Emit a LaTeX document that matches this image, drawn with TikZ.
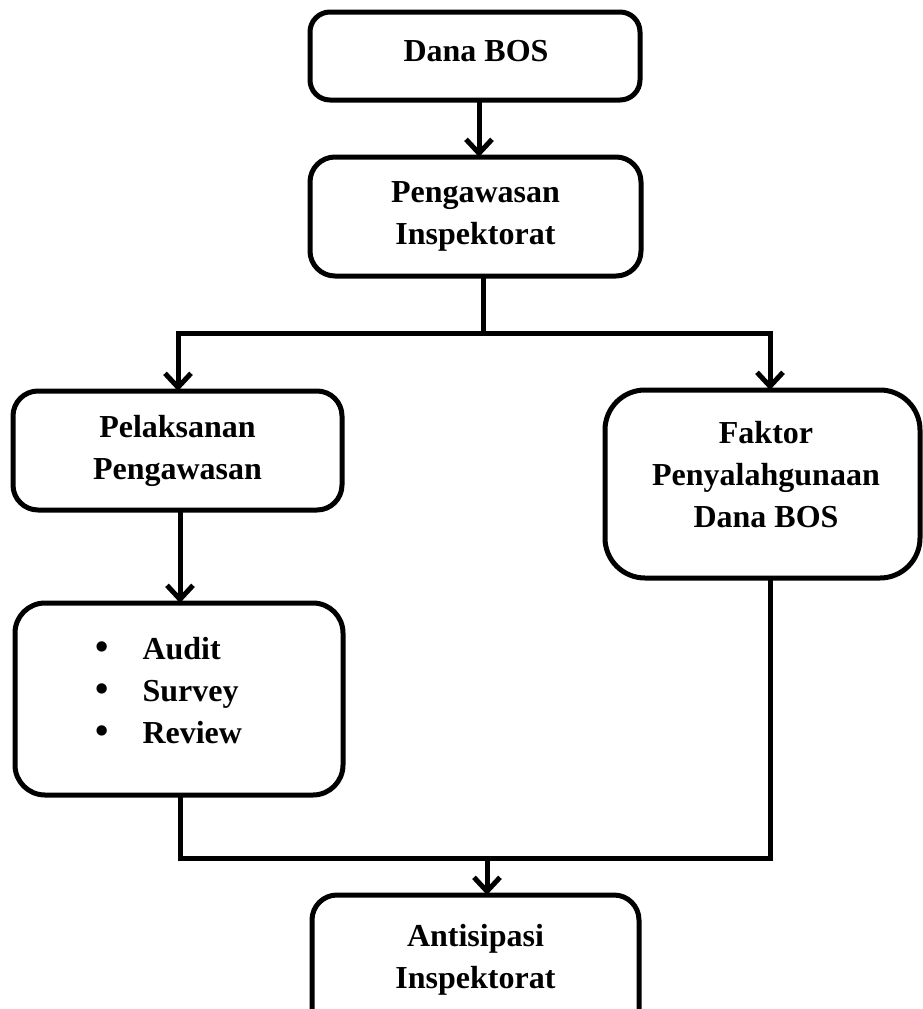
\documentclass[tikz,border=0pt]{standalone}
\usepackage{fontspec}
\setmainfont{Liberation Serif}
\usetikzlibrary{arrows.meta}
\begin{document}
\begin{tikzpicture}[x=1pt,y=-1pt,
  box/.style={draw=black, line width=5pt, fill=white, align=center, inner sep=0pt,
    font=\fontsize{32}{42}\selectfont\bfseries},
  conn/.style={line width=5pt, line cap=rect},
  arr/.style={line width=5pt, -{Straight Barb[length=14pt,width=26pt,line width=5pt]}},
  txt/.style={inner sep=0pt, align=center, font=\fontsize{32}{42}\selectfont\bfseries}]
\useasboundingbox (0,0) rectangle (923,1009);
\clip (0,0) rectangle (923,1009);
\fill[white] (0,0) rectangle (923,1009);

\node[box, rounded corners=20pt, minimum width=330pt, minimum height=88pt] (b1) at (475,56) {};
\node[txt, anchor=base] (b1t) at (476,61) {Dana BOS};
\node[box, rounded corners=25pt, minimum width=331pt, minimum height=119pt] (b2) at (475.5,216.5) {Pengawasan\\Inspektorat};
\node[box, rounded corners=25pt, minimum width=329pt, minimum height=119pt] (b3) at (177.5,450.5) {Pelaksanan\\Pengawasan};
\node[box, rounded corners=30pt, minimum width=328pt, minimum height=192pt] (b4) at (179,699) {};
\node[txt, anchor=base west] (list) at (95,659) {%
  \begin{tabular}[t]{@{}l@{\hspace{34pt}}l@{}}
  \fontsize{38}{44}\selectfont • & Audit\\
  \fontsize{38}{44}\selectfont • & Survey\\
  \fontsize{38}{44}\selectfont • & Review
  \end{tabular}};
\node[box, rounded corners=40pt, minimum width=315pt, minimum height=188pt] (b5) at (762.5,484) {};
\node[txt, anchor=base] (b5t) at (766,527) {Faktor\\Penyalahgunaan\\Dana BOS};
\node[box, rounded corners=25pt, minimum width=327pt, minimum height=140pt] (b6) at (475.5,965) {};
\node[txt, anchor=base] (b6t) at (475.5,988) {Antisipasi\\Inspektorat};

% connectors
\coordinate (s1) at (479,100);
\coordinate (e1) at (479,157);
\draw[arr] (s1) -- (e1);

\coordinate (s2) at (483,276);
\coordinate (j2) at (483,333);
\coordinate (jl) at (178,333);
\coordinate (jr) at (770,333);
\coordinate (tl) at (178,391);
\coordinate (tr) at (770,390);
\draw[conn] (s2) -- (j2);
\draw[conn] (jl) -- (jr);
\draw[arr] (jl) -- (tl);
\draw[arr] (jr) -- (tr);

\coordinate (s3) at (180,510);
\coordinate (e3) at (180,603);
\draw[arr] (s3) -- (e3);

\coordinate (s4) at (180,795);
\coordinate (j4) at (180,858);
\coordinate (s5) at (770,578);
\coordinate (j5) at (770,858);
\coordinate (jm) at (487,858);
\coordinate (e6) at (487,895);
\draw[conn] (s4) -- (j4) -- (j5) -- (s5);
\draw[arr] (jm) -- (e6);
\end{tikzpicture}
\end{document}
